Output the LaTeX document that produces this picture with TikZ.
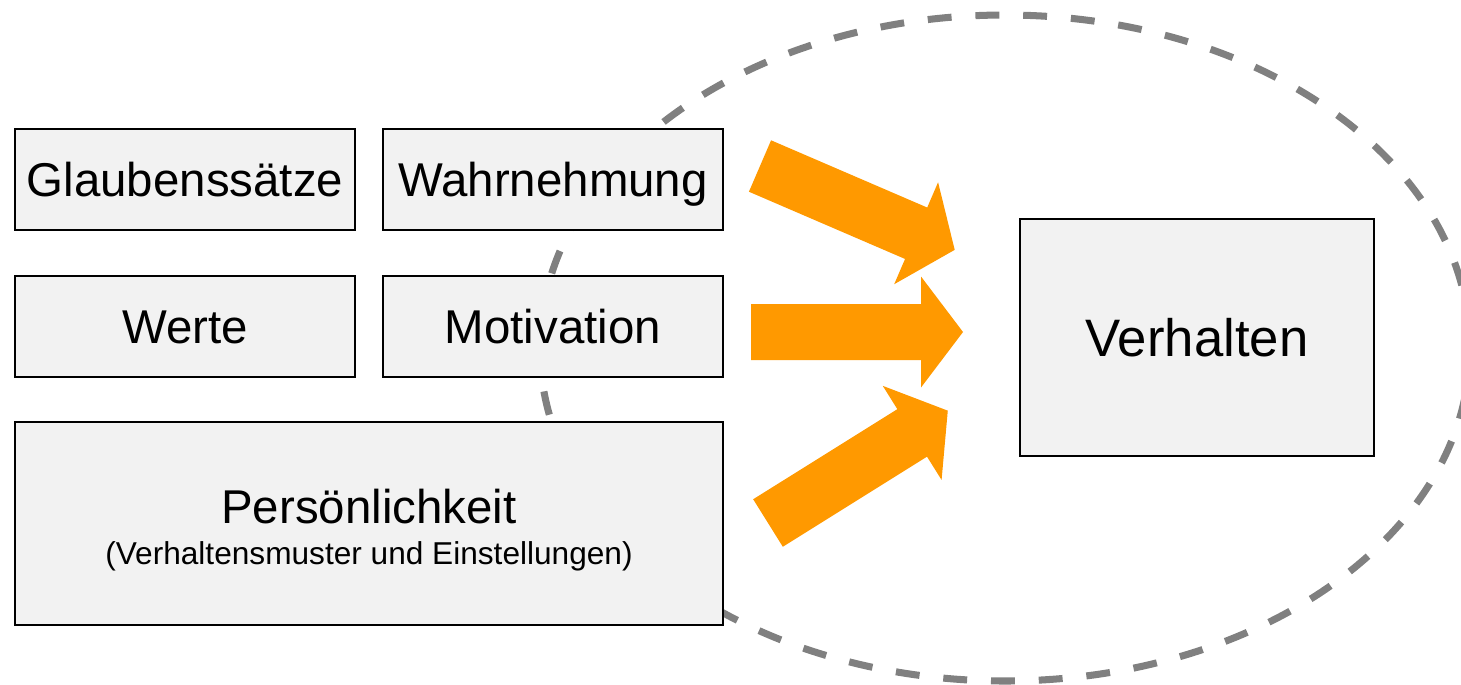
\documentclass[tikz,border=0pt]{standalone}
\usepackage{fontspec}
\setmainfont{Liberation Sans}
\usepackage{tikz}
\usetikzlibrary{shapes.geometric, arrows}
\definecolor{boxgray}{RGB}{242,242,242}
\definecolor{ringgray}{RGB}{128,128,128}
\definecolor{arroworange}{RGB}{255,153,0}

\begin{document}
\begin{tikzpicture}[x=0.02cm, y=-0.02cm,
    factor/.style={draw, rectangle, fill=boxgray, line width=1.1pt, inner sep=0pt,
      minimum width=6.8cm, minimum height=2.02cm, text height=19.5pt, text depth=0pt,
      font=\fontsize{27}{32}\selectfont},
    bigarrow/.style={fill=arroworange}]
  \useasboundingbox (0,0) rectangle (1461,684);
  \draw[ringgray, line width=4pt, dash pattern=on 13.6pt off 13.6pt] (1005,348) ellipse [x radius=465, y radius=333];
           \node[factor](glauben)  at (185,179.5) {Glaubenssätze};
           \node[factor](wahrnehmung)  at (553,179.5) {Wahrnehmung};
      \node[factor](werte)  at (185,326.5) {Werte};
      \node[factor](motivation)  at (553,326.5) {Motivation};
      \node[factor, minimum width=14.16cm, minimum height=4.06cm, text height=, text depth=, align=center](persoenlichkeit)  at (369,523.5)
        {\rule{0pt}{27pt}Persönlichkeit\\[-8.5pt]{\fontsize{18}{22}\selectfont (Verhaltensmuster und Einstellungen)}};
      \node[factor, minimum width=7.08cm, minimum height=4.74cm, text height=21.6pt, font=\fontsize{30}{36}\selectfont](verhalten)  at (1197,337.5) {Verhalten};
  \foreach \x/\y/\a in {760/166/-23.3, 751/332/0, 768/523/32}
        \fill[bigarrow, shift={(\x,\y)}, rotate=\a] (0,-28) -- (170,-28) -- (170,-55.5) -- (212,0) -- (170,55.5) -- (170,28) -- (0,28) -- cycle;
          \end{tikzpicture}
\end{document}
